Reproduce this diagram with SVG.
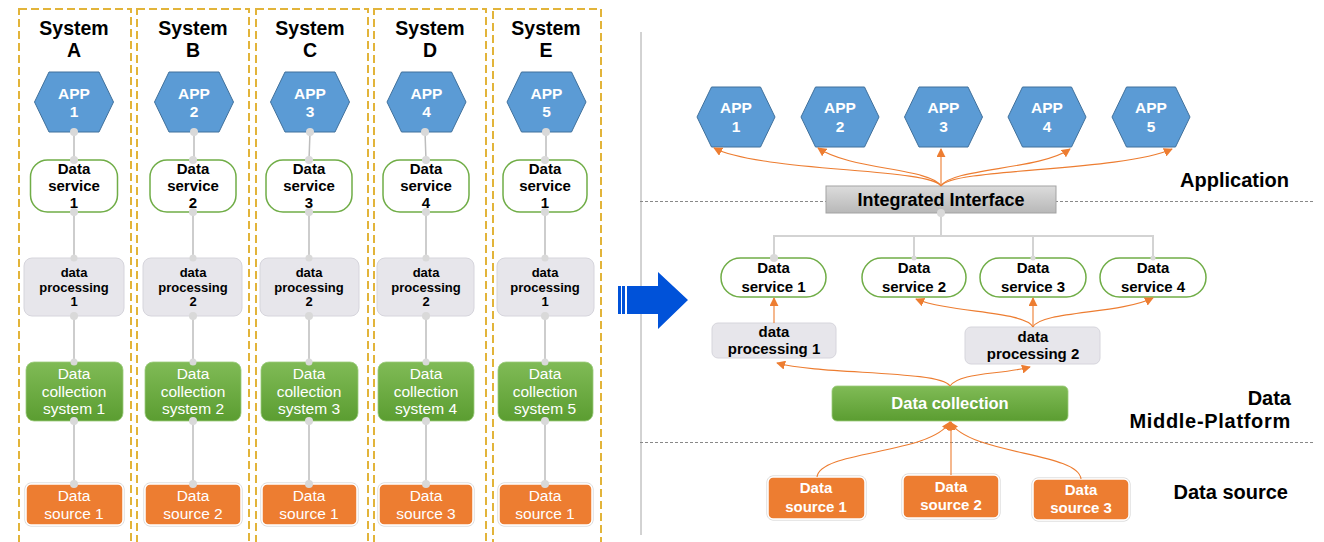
<svg xmlns="http://www.w3.org/2000/svg" width="1324" height="542" viewBox="0 0 1324 542">
<defs>
<linearGradient id="gGreen" x1="0" y1="0" x2="0" y2="1"><stop offset="0" stop-color="#80bb56"/><stop offset="1" stop-color="#5b9d31"/></linearGradient>
<linearGradient id="gGray" x1="0" y1="0" x2="0" y2="1"><stop offset="0" stop-color="#dcdcdc"/><stop offset="1" stop-color="#b8b8b8"/></linearGradient>
<marker id="ah" viewBox="0 0 10 10" refX="9" refY="5" markerWidth="9" markerHeight="9" markerUnits="userSpaceOnUse" orient="auto"><path d="M0,0 L10,5 L0,10 z" fill="#ED7D31"/></marker>
<style>
text{font-family:"Liberation Sans",Arial,sans-serif;text-anchor:middle}
.col{fill:none;stroke:#e2b43a;stroke-width:2;stroke-dasharray:8 4}
.title{font-size:19.5px;font-weight:bold;fill:#000}
.hex{fill:#5B9BD5;stroke:#41719C;stroke-width:1}
.hext{font-size:15.5px;font-weight:bold;fill:#fff}
.svc{fill:#fff;stroke:#70AD47;stroke-width:1.5}
.svct{font-size:15px;font-weight:bold;fill:#000}
.dp{fill:#e7e6eb;stroke:#d6d5dc;stroke-width:1}
.dpt{font-size:13px;font-weight:bold;fill:#000}
.dpt2{font-size:15px;font-weight:bold;fill:#000}
.dc{fill:url(#gGreen);stroke:#9ccc7c;stroke-width:0.8}
.dct{font-size:15.5px;fill:#fff}
.src{fill:#ED7D31;stroke:#fff;stroke-width:1.5}
.srco{fill:none;stroke:#cfcfcf;stroke-width:1}
.srct{font-size:15.5px;fill:#fff}
.srct2{font-size:15px;font-weight:bold;fill:#fff}
.lbl{font-size:20px;font-weight:bold;fill:#000;text-anchor:end}
.cl{stroke:#bdbdbd;stroke-width:1.5;fill:none}
.dot{fill:#d9d9d9}
.tree{stroke:#d3d3d3;stroke-width:2;fill:none}
.oa{stroke:#ED7D31;stroke-width:1.1;fill:none;marker-end:url(#ah)}
.sep{stroke:#888;stroke-width:1;stroke-dasharray:3 2;fill:none}
</style>
</defs>
<rect width="1324" height="542" fill="#fff"/>

<g id="columns">
<rect class="col" x="19" y="9" width="112" height="545"/>
<rect class="col" x="137" y="9" width="112" height="545"/>
<rect class="col" x="256" y="9" width="112" height="545"/>
<rect class="col" x="374" y="9" width="112" height="545"/>
<rect class="col" x="493" y="9" width="108" height="545"/>
</g>

<g id="dividers">
<line x1="641" y1="32" x2="641" y2="535" stroke="#a6a6a6" stroke-width="1"/>
<line class="sep" x1="640" y1="201.5" x2="1313" y2="201.5"/>
<line class="sep" x1="640" y1="442.5" x2="1313" y2="442.5"/>
</g>
<g id="bigArrow" fill="#0052d9">
<rect x="618" y="286" width="3" height="28"/>
<rect x="622" y="286" width="3" height="28"/>
<polygon points="627,286 658,286 658,272 688,300 658,329 658,314 627,314"/>
</g>

<g id="colA">
<text class="title" x="74" y="35"><tspan x="74">System</tspan><tspan x="74" dy="22">A</tspan></text>
<polygon class="hex" points="34.5,102 49,72 99,72 113.5,102 99,132 49,132"/>
<text class="hext" x="74" y="99"><tspan x="74">APP</tspan><tspan x="74" dy="18">1</tspan></text>
<rect class="svc" x="30.5" y="160" width="87" height="52" rx="17"/>
<text class="svct" x="74" y="174"><tspan x="74">Data</tspan><tspan x="74" dy="17">service</tspan><tspan x="74" dy="17">1</tspan></text>
<rect class="dp" x="24" y="258" width="100" height="58" rx="8"/>
<text class="dpt" x="74" y="277"><tspan x="74">data</tspan><tspan x="74" dy="14.5">processing</tspan><tspan x="74" dy="14.5">1</tspan></text>
<rect class="dc" x="26" y="362" width="97" height="59" rx="8"/>
<text class="dct" x="74" y="379"><tspan x="74">Data</tspan><tspan x="74" dy="17.5">collection</tspan><tspan x="74" dy="17.5">system 1</tspan></text>
<rect class="srco" x="25" y="483" width="99" height="43" rx="6"/>
<rect class="src" x="26" y="484" width="97" height="41" rx="5"/>
<text class="srct" x="74" y="501"><tspan x="74">Data</tspan><tspan x="74" dy="18">source 1</tspan></text>
</g>

<g id="colB">
<text class="title" x="193" y="35"><tspan x="193">System</tspan><tspan x="193" dy="22">B</tspan></text>
<polygon class="hex" points="154.5,102 169,72 219,72 233.5,102 219,132 169,132"/>
<text class="hext" x="194" y="99"><tspan x="194">APP</tspan><tspan x="194" dy="18">2</tspan></text>
<rect class="svc" x="150" y="160" width="86" height="52" rx="17"/>
<text class="svct" x="193" y="174"><tspan x="193">Data</tspan><tspan x="193" dy="17">service</tspan><tspan x="193" dy="17">2</tspan></text>
<rect class="dp" x="143" y="258" width="99" height="58" rx="8"/>
<text class="dpt" x="193" y="277"><tspan x="193">data</tspan><tspan x="193" dy="14.5">processing</tspan><tspan x="193" dy="14.5">2</tspan></text>
<rect class="dc" x="145" y="362" width="96" height="59" rx="8"/>
<text class="dct" x="193" y="379"><tspan x="193">Data</tspan><tspan x="193" dy="17.5">collection</tspan><tspan x="193" dy="17.5">system 2</tspan></text>
<rect class="srco" x="144" y="483" width="98" height="43" rx="6"/>
<rect class="src" x="145" y="484" width="96" height="41" rx="5"/>
<text class="srct" x="193" y="501"><tspan x="193">Data</tspan><tspan x="193" dy="18">source 2</tspan></text>
</g>

<g id="colC">
<text class="title" x="310" y="35"><tspan x="310">System</tspan><tspan x="310" dy="22">C</tspan></text>
<polygon class="hex" points="270.5,102 285,72 335,72 349.5,102 335,132 285,132"/>
<text class="hext" x="310" y="99"><tspan x="310">APP</tspan><tspan x="310" dy="18">3</tspan></text>
<rect class="svc" x="266" y="160" width="86" height="52" rx="17"/>
<text class="svct" x="309" y="174"><tspan x="309">Data</tspan><tspan x="309" dy="17">service</tspan><tspan x="309" dy="17">3</tspan></text>
<rect class="dp" x="260" y="258" width="99" height="58" rx="8"/>
<text class="dpt" x="309" y="277"><tspan x="309">data</tspan><tspan x="309" dy="14.5">processing</tspan><tspan x="309" dy="14.5">2</tspan></text>
<rect class="dc" x="261" y="362" width="97" height="59" rx="8"/>
<text class="dct" x="309" y="379"><tspan x="309">Data</tspan><tspan x="309" dy="17.5">collection</tspan><tspan x="309" dy="17.5">system 3</tspan></text>
<rect class="srco" x="261" y="483" width="97" height="43" rx="6"/>
<rect class="src" x="262" y="484" width="95" height="41" rx="5"/>
<text class="srct" x="309" y="501"><tspan x="309">Data</tspan><tspan x="309" dy="18">source 1</tspan></text>
</g>

<g id="colD">
<text class="title" x="430" y="35"><tspan x="430">System</tspan><tspan x="430" dy="22">D</tspan></text>
<polygon class="hex" points="387,102 401.5,72 451.5,72 466,102 451.5,132 401.5,132"/>
<text class="hext" x="426.5" y="99"><tspan x="426.5">APP</tspan><tspan x="426.5" dy="18">4</tspan></text>
<rect class="svc" x="383" y="160" width="86" height="52" rx="17"/>
<text class="svct" x="426" y="174"><tspan x="426">Data</tspan><tspan x="426" dy="17">service</tspan><tspan x="426" dy="17">4</tspan></text>
<rect class="dp" x="377" y="258" width="97" height="58" rx="8"/>
<text class="dpt" x="426" y="277"><tspan x="426">data</tspan><tspan x="426" dy="14.5">processing</tspan><tspan x="426" dy="14.5">2</tspan></text>
<rect class="dc" x="378" y="362" width="96" height="59" rx="8"/>
<text class="dct" x="426" y="379"><tspan x="426">Data</tspan><tspan x="426" dy="17.5">collection</tspan><tspan x="426" dy="17.5">system 4</tspan></text>
<rect class="srco" x="378" y="483" width="96" height="43" rx="6"/>
<rect class="src" x="379" y="484" width="94" height="41" rx="5"/>
<text class="srct" x="426" y="501"><tspan x="426">Data</tspan><tspan x="426" dy="18">source 3</tspan></text>
</g>

<g id="colE">
<text class="title" x="546" y="35"><tspan x="546">System</tspan><tspan x="546" dy="22">E</tspan></text>
<polygon class="hex" points="507,102 521.5,72 571.5,72 586,102 571.5,132 521.5,132"/>
<text class="hext" x="546.5" y="99"><tspan x="546.5">APP</tspan><tspan x="546.5" dy="18">5</tspan></text>
<rect class="svc" x="503" y="160" width="84" height="52" rx="17"/>
<text class="svct" x="545" y="174"><tspan x="545">Data</tspan><tspan x="545" dy="17">service</tspan><tspan x="545" dy="17">1</tspan></text>
<rect class="dp" x="497" y="258" width="97" height="58" rx="8"/>
<text class="dpt" x="545" y="277"><tspan x="545">data</tspan><tspan x="545" dy="14.5">processing</tspan><tspan x="545" dy="14.5">1</tspan></text>
<rect class="dc" x="498" y="362" width="95" height="59" rx="8"/>
<text class="dct" x="545" y="379"><tspan x="545">Data</tspan><tspan x="545" dy="17.5">collection</tspan><tspan x="545" dy="17.5">system 5</tspan></text>
<rect class="srco" x="498" y="483" width="95" height="43" rx="6"/>
<rect class="src" x="499" y="484" width="93" height="41" rx="5"/>
<text class="srct" x="545" y="501"><tspan x="545">Data</tspan><tspan x="545" dy="18">source 1</tspan></text>
</g>

<g id="leftConnectors">
<path class="cl" d="M74,132V160M74,212V258M74,316V362M74,421V484"/>
<path class="cl" d="M194,132V160M193,212V258M193,316V362M193,421V484"/>
<path class="cl" d="M310,132L309,160M309,212V258M309,316V362M309,421V484"/>
<path class="cl" d="M425,132L426,160M426,212V258M426,316V362M426,421V484"/>
<path class="cl" d="M546,132V160M545,212V258M545,316V362M545,421V484" stroke="#e3e3e3"/>
<g class="dot">
<circle cx="74" cy="132" r="4"/><circle cx="74" cy="160" r="4"/><circle cx="74" cy="212" r="4"/><circle cx="74" cy="258" r="3.5"/><circle cx="74" cy="316" r="4"/><circle cx="74" cy="362" r="3.5"/><circle cx="74" cy="421" r="4"/><circle cx="74" cy="484" r="4"/>
<circle cx="194" cy="132" r="4"/><circle cx="193" cy="160" r="4"/><circle cx="193" cy="212" r="4"/><circle cx="193" cy="258" r="3.5"/><circle cx="193" cy="316" r="4"/><circle cx="193" cy="362" r="3.5"/><circle cx="193" cy="421" r="4"/><circle cx="193" cy="484" r="4"/>
<circle cx="310" cy="132" r="4"/><circle cx="309" cy="160" r="4"/><circle cx="309" cy="212" r="4"/><circle cx="309" cy="258" r="3.5"/><circle cx="309" cy="316" r="4"/><circle cx="309" cy="362" r="3.5"/><circle cx="309" cy="421" r="4"/><circle cx="309" cy="484" r="4"/>
<circle cx="425" cy="132" r="4"/><circle cx="426" cy="160" r="4"/><circle cx="426" cy="212" r="4"/><circle cx="426" cy="258" r="3.5"/><circle cx="426" cy="316" r="4"/><circle cx="426" cy="362" r="3.5"/><circle cx="426" cy="421" r="4"/><circle cx="426" cy="484" r="4"/>
<circle cx="546" cy="132" r="4"/><circle cx="545" cy="160" r="4"/><circle cx="545" cy="212" r="4"/><circle cx="545" cy="258" r="3.5"/><circle cx="545" cy="316" r="4"/><circle cx="545" cy="362" r="3.5"/><circle cx="545" cy="421" r="4"/><circle cx="545" cy="484" r="4"/>
</g>
</g>

<g id="rApp1"><polygon class="hex" points="697,117 711.5,87 760.5,87 775,117 760.5,147 711.5,147"/><text class="hext" x="736" y="113"><tspan x="736">APP</tspan><tspan x="736" dy="19">1</tspan></text></g>
<g id="rApp2"><polygon class="hex" points="801,117 815.5,87 864.5,87 879,117 864.5,147 815.5,147"/><text class="hext" x="840" y="113"><tspan x="840">APP</tspan><tspan x="840" dy="19">2</tspan></text></g>
<g id="rApp3"><polygon class="hex" points="904.5,117 919,87 968,87 982.5,117 968,147 919,147"/><text class="hext" x="943.5" y="113"><tspan x="943.5">APP</tspan><tspan x="943.5" dy="19">3</tspan></text></g>
<g id="rApp4"><polygon class="hex" points="1008,117 1022.5,87 1071.5,87 1086,117 1071.5,147 1022.5,147"/><text class="hext" x="1047" y="113"><tspan x="1047">APP</tspan><tspan x="1047" dy="19">4</tspan></text></g>
<g id="rApp5"><polygon class="hex" points="1112,117 1126.5,87 1175.5,87 1190,117 1175.5,147 1126.5,147"/><text class="hext" x="1151" y="113"><tspan x="1151">APP</tspan><tspan x="1151" dy="19">5</tspan></text></g>

<g id="rInterface"><rect x="826" y="186" width="230" height="27" fill="url(#gGray)" stroke="#a3a3a3" stroke-width="1"/><text x="941" y="206" style="font-size:18px;font-weight:bold;fill:#000">Integrated Interface</text></g>

<g id="rSvc1"><rect class="svc" x="721" y="258" width="105" height="39" rx="19.5"/><text class="svct" x="773.5" y="273"><tspan x="773.5">Data</tspan><tspan x="773.5" dy="19">service 1</tspan></text></g>
<g id="rSvc2"><rect class="svc" x="862" y="258" width="104" height="39" rx="19.5"/><text class="svct" x="914" y="273"><tspan x="914">Data</tspan><tspan x="914" dy="19">service 2</tspan></text></g>
<g id="rSvc3"><rect class="svc" x="980" y="258" width="106" height="39" rx="19.5"/><text class="svct" x="1033" y="273"><tspan x="1033">Data</tspan><tspan x="1033" dy="19">service 3</tspan></text></g>
<g id="rSvc4"><rect class="svc" x="1100" y="258" width="106" height="39" rx="19.5"/><text class="svct" x="1153" y="273"><tspan x="1153">Data</tspan><tspan x="1153" dy="19">service 4</tspan></text></g>

<g id="rDp1"><rect class="dp" x="712" y="323" width="124" height="35" rx="6"/><text class="dpt2" x="774" y="337"><tspan x="774">data</tspan><tspan x="774" dy="17">processing 1</tspan></text></g>
<g id="rDp2"><rect class="dp" x="965" y="327" width="135" height="37" rx="6"/><text class="dpt2" x="1033" y="342"><tspan x="1033">data</tspan><tspan x="1033" dy="17">processing 2</tspan></text></g>

<g id="rCollect"><rect class="dc" x="832" y="386" width="236" height="35" rx="5"/><text x="950" y="409" style="font-size:16.5px;font-weight:bold;fill:#fff">Data collection</text></g>

<g id="rSrc1"><rect class="srco" x="767" y="476" width="99" height="44" rx="6"/><rect class="src" x="768" y="477" width="97" height="42" rx="5"/><text class="srct2" x="816" y="493"><tspan x="816">Data</tspan><tspan x="816" dy="19">source 1</tspan></text></g>
<g id="rSrc2"><rect class="srco" x="902" y="474" width="98" height="45" rx="6"/><rect class="src" x="903" y="475" width="96" height="43" rx="5"/><text class="srct2" x="951" y="492"><tspan x="951">Data</tspan><tspan x="951" dy="18">source 2</tspan></text></g>
<g id="rSrc3"><rect class="srco" x="1032" y="478" width="98" height="43" rx="6"/><rect class="src" x="1033" y="479" width="96" height="41" rx="5"/><text class="srct2" x="1081" y="495"><tspan x="1081">Data</tspan><tspan x="1081" dy="18">source 3</tspan></text></g>

<g id="labels">
<text class="lbl" x="1289" y="187">Application</text>
<text class="lbl" x="1291" y="405"><tspan x="1291">Data</tspan><tspan x="1291" dy="22.5" letter-spacing="0.7">Middle-Platform</tspan></text>
<text class="lbl" x="1288" y="499">Data source</text>
</g>

<g id="rightConnectors">
<path class="tree" d="M941,213V236M774,258V236H1153V258M914,236V258M1033,236V258"/>
<circle class="dot" cx="941" cy="213" r="4"/>
<circle class="dot" cx="774" cy="258" r="4"/>
<circle class="dot" cx="914" cy="258" r="2.5"/>
<circle class="dot" cx="1033" cy="258" r="2.5"/>
<circle class="dot" cx="1153" cy="258" r="2.5"/>
<path class="oa" d="M941,186 C930,168 760,172 714,148"/>
<path class="oa" d="M941,186 C930,168 850,170 818,148"/>
<path class="oa" d="M941,186 L941,149" stroke="#c4a592"/>
<path class="oa" d="M941,186 C952,168 1040,170 1070,149"/>
<path class="oa" d="M941,186 C952,168 1120,172 1172,149"/>
<path class="oa" d="M774,323 L774,298"/>
<path class="oa" d="M1033,327 C1025,311 950,313 916,299"/>
<path class="oa" d="M1033,327 L1033,298"/>
<path class="oa" d="M1033,327 C1041,311 1120,314 1153,298"/>
<path class="oa" d="M950,386 C940,370 820,375 777,363"/>
<path class="oa" d="M950,386 C960,372 1000,375 1030,367"/>
<path class="oa" d="M817,477 C820,450 930,455 950,422"/>
<path class="oa" d="M951,475 L951,422"/>
<path class="oa" d="M1081,479 C1078,452 970,455 950,422"/>
</g>
</svg>
